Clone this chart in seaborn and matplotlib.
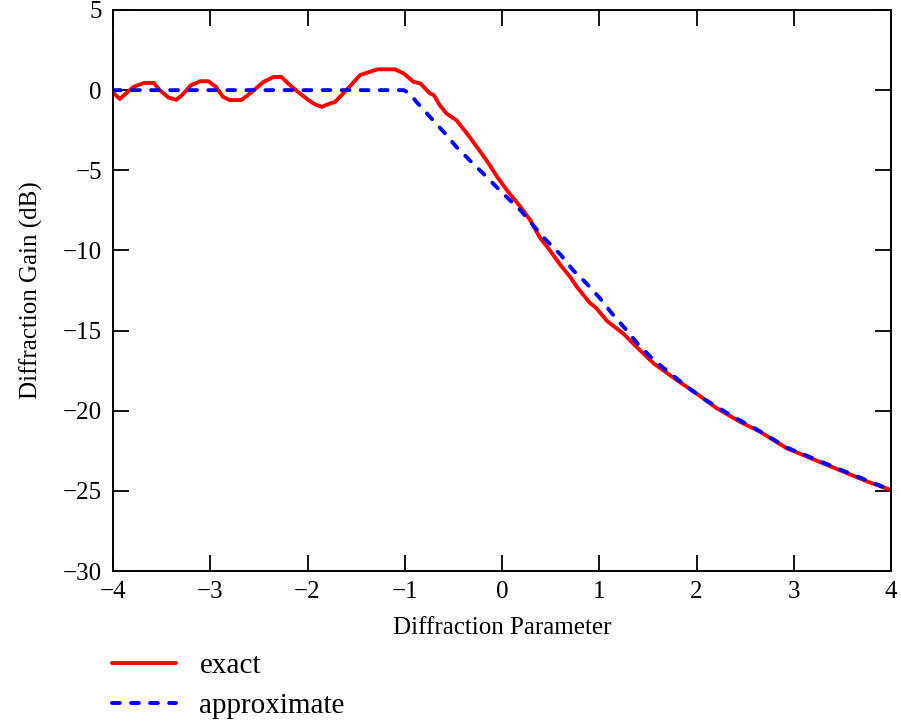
import numpy as np
import pandas as pd
import matplotlib
matplotlib.use("Agg")
import matplotlib.pyplot as plt
import seaborn as sns

# values
exact_v = [-4.00, -3.93, -3.79, -3.68, -3.58, -3.52, -3.43, -3.35, -3.29, -3.20,
           -3.10, -3.02, -2.94, -2.87, -2.80, -2.68, -2.59, -2.45, -2.35, -2.27,
           -2.18, -2.10, -1.99, -1.92, -1.85, -1.77, -1.72, -1.60, -1.46, -1.36,
           -1.28, -1.10, -1.01, -0.91, -0.84, -0.74, -0.70, -0.64, -0.57, -0.47,
           -0.36, -0.26, -0.16, -0.05, 0.05, 0.19, 0.29, 0.39, 0.49, 0.60,
           0.70, 0.77, 0.90, 0.97, 1.08, 1.25, 1.38, 1.56, 1.80, 1.97,
           2.21, 2.45, 2.65, 2.93, 3.23, 3.51, 3.75, 4.00]
exact_gain = [-0.15, -0.55, 0.20, 0.45, 0.45, 0.00, -0.46, -0.60, -0.31, 0.30,
              0.56, 0.56, 0.20, -0.41, -0.62, -0.62, -0.20, 0.52, 0.82, 0.83,
              0.31, -0.10, -0.62, -0.90, -1.04, -0.83, -0.75, 0.00, 0.94, 1.14,
              1.30, 1.30, 1.04, 0.52, 0.42, -0.21, -0.31, -0.94, -1.46, -1.87,
              -2.70, -3.53, -4.37, -5.40, -6.24, -7.28, -8.11, -9.20, -9.98, -10.90,
              -11.65, -12.27, -13.25, -13.60, -14.40, -15.20, -16.00, -17.05, -18.10, -18.80,
              -19.85, -20.70, -21.30, -22.35, -23.10, -23.80, -24.40, -24.95]

approx_v = [-4.00, -1.01, -0.95, -0.88, -0.71, -0.60, -0.47, -0.30, -0.16, 0.01,
            0.19, 0.32, 0.42, 0.60, 0.73, 0.87, 0.90, 1.01, 1.13, 1.28,
            1.40, 1.56, 1.69, 1.86, 2.04, 2.21, 2.38, 2.60, 2.93, 3.23,
            3.51, 4.00]
approx_gain = [0.00, 0.00, -0.20, -0.73, -1.87, -2.60, -3.53, -4.57, -5.40, -6.45,
               -7.49, -8.42, -9.15, -10.25, -11.23, -12.06, -12.27, -13.00, -13.93, -14.97,
               -15.85, -16.84, -17.47, -18.30, -19.13, -19.76, -20.38, -21.10, -22.30, -23.05,
               -23.75, -24.95]

x_ticks = [-4, -3, -2, -1, 0, 1, 2, 3, 4]
y_ticks = [5, 0, -5, -10, -15, -20, -25, -30]

sns.set_theme(style="ticks")
plt.rcParams['font.family'] = ['Liberation Serif', 'DejaVu Serif']
plt.rcParams['axes.unicode_minus'] = True
for key in ['text.color', 'axes.labelcolor', 'xtick.color', 'ytick.color',
            'axes.edgecolor']:
    plt.rcParams[key] = 'black'

fig = plt.figure(figsize=(9.01, 7.25), dpi=100)
ax = fig.add_axes([113 / 901, 1 - 571 / 725, 778 / 901, 561 / 725])

exact_df = pd.DataFrame({'v': exact_v, 'gain': exact_gain})
approx_df = pd.DataFrame({'v': approx_v, 'gain': approx_gain})

sns.lineplot(data=exact_df, x='v', y='gain', ax=ax, color='#ff0000',
             linewidth=2.8, sort=False, label='exact')
sns.lineplot(data=approx_df, x='v', y='gain', ax=ax, color='#0000ff',
             linewidth=2.8, sort=False, label='approximate',
             linestyle=(0, (2.0, 2.9)), dash_capstyle='round')

ax.set_xlim(-4, 4)
ax.set_ylim(-30, 5)
ax.set_xticks(x_ticks)
ax.set_yticks(y_ticks)
ax.tick_params(direction='in', length=11.5, width=1.3, top=True, right=True,
               labelsize=18, colors='black')
ax.tick_params(axis='y', pad=8)
ax.tick_params(axis='x', pad=7)
for sp in ax.spines.values():
    sp.set_linewidth(1.4)
    sp.set_color('black')
    sp.set_visible(True)

ax.set_xlabel('Diffraction Parameter', fontsize=18, labelpad=10)
ax.set_ylabel('Diffraction Gain (dB)', fontsize=18, labelpad=14)

ax.legend(loc='upper left', bbox_to_anchor=(112 / 901, 1 - 653 / 725),
          bbox_transform=fig.transFigure, frameon=False, fontsize=21,
          handlelength=2.2, handletextpad=0.8, labelspacing=0.46,
          borderpad=0, borderaxespad=0)

fig.savefig('out.png', dpi=100)
